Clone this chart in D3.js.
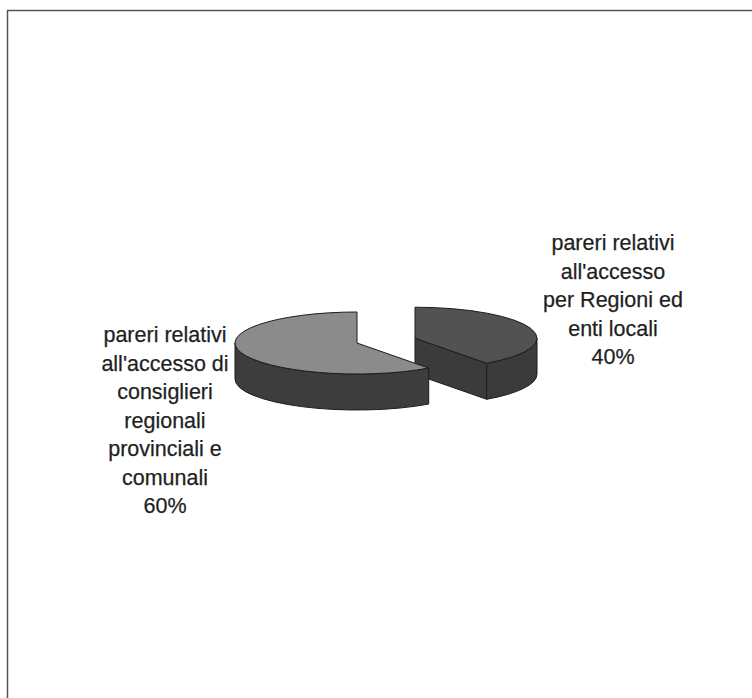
<!DOCTYPE html>
<html>
<head>
<meta charset="utf-8">
<script src="https://cdn.jsdelivr.net/npm/d3@7"></script>
<style>
  html, body { margin: 0; padding: 0; background: #fff; }
  svg { display: block; }
  .lbl { font-family: "Liberation Sans", Arial, sans-serif; font-size: 21.5px; fill: #1f1f1f; stroke: #1f1f1f; stroke-width: 0.25px; }
</style>
</head>
<body>
<div id="grafico"></div>
<script>
// dati della torta
const categorie = [
  ["pareri relativi", "all'accesso", "per Regioni ed", "enti locali"],
  ["pareri relativi", "all'accesso di", "consiglieri", "regionali", "provinciali e", "comunali"]
]
const valori = [40, 60]
const percentuali = ["40%", "60%"]

const anchoTotal = 752
const altoTotal = 698

// aspetto 3D
const cx = 357, cy = 343
const rx = 122, ry = 31
const spessore = 36
const esplodi = [0.5, 0]
const coloriTop = ["#525252", "#8b8b8b"]
const coloriLato = ["#3b3b3b", "#3d3d3d"]
const bordo = "#1c1c1c"
const posEtichette = [[613, 250], [165, 342]]
const interlinea = 28.5

const svg = d3.select("#grafico")
  .append("svg")
  .attr("width", anchoTotal)
  .attr("height", altoTotal)

// cornice
svg.append("path")
  .attr("d", `M7.5,${altoTotal + 5} L7.5,10.5 L${anchoTotal + 5},10.5`)
  .attr("fill", "none")
  .attr("stroke", "#555")
  .attr("stroke-width", 1.5)

const pie = d3.pie().sort(null).startAngle(0).endAngle(2 * Math.PI)
const archi = pie(valori)

const pt = (c, a, dy = 0) => [c[0] + rx * Math.sin(a), c[1] - ry * Math.cos(a) + dy]

const arco = (p, large, sweep) => `A${rx},${ry} 0 ${large} ${sweep} ${p[0]},${p[1]}`

const g = svg.append("g")

// prima la fetta 40% (dietro), poi la 60%
archi.forEach((d, i) => {
  const mid = (d.startAngle + d.endAngle) / 2
  const c = [cx + esplodi[i] * rx * Math.sin(mid), cy - esplodi[i] * ry * Math.cos(mid)]
  const a0 = d.startAngle, a1 = d.endAngle
  const fetta = g.append("g")

  // faccia di taglio finale
  if (Math.sin(a1) > 0.01) {
    const p = pt(c, a1)
    fetta.append("path")
      .attr("d", `M${c[0]},${c[1]} L${p[0]},${p[1]} L${p[0]},${p[1] + spessore} L${c[0]},${c[1] + spessore} Z`)
      .attr("fill", coloriLato[i]).attr("stroke", bordo).attr("stroke-width", 1)
  }
  // faccia di taglio iniziale
  if (Math.sin(a0) < -0.01) {
    const p = pt(c, a0)
    fetta.append("path")
      .attr("d", `M${c[0]},${c[1]} L${p[0]},${p[1]} L${p[0]},${p[1] + spessore} L${c[0]},${c[1] + spessore} Z`)
      .attr("fill", coloriLato[i]).attr("stroke", bordo).attr("stroke-width", 1)
  }
  // lato esterno visibile
  const s = Math.max(a0, Math.PI / 2), e = Math.min(a1, 3 * Math.PI / 2)
  if (e > s) {
    const ps = pt(c, s), pe = pt(c, e)
    const large = e - s > Math.PI ? 1 : 0
    fetta.append("path")
      .attr("d", `M${ps[0]},${ps[1]} ${arco(pe, large, 1)} L${pe[0]},${pe[1] + spessore} ${arco([ps[0], ps[1] + spessore], large, 0)} Z`)
      .attr("fill", coloriLato[i]).attr("stroke", bordo).attr("stroke-width", 1)
  }
  // faccia superiore
  const p0 = pt(c, a0), p1 = pt(c, a1)
  const large = a1 - a0 > Math.PI ? 1 : 0
  fetta.append("path")
    .attr("d", `M${c[0]},${c[1]} L${p0[0]},${p0[1]} ${arco(p1, large, 1)} Z`)
    .attr("fill", coloriTop[i]).attr("stroke", bordo).attr("stroke-width", 1)
})

// etichette
archi.forEach((d, i) => {
  const righe = categorie[i].concat([percentuali[i]])
  const t = svg.append("text")
    .attr("class", "lbl")
    .attr("text-anchor", "middle")
  righe.forEach((r, k) => {
    t.append("tspan")
      .attr("x", posEtichette[i][0])
      .attr("y", posEtichette[i][1] + k * interlinea)
      .text(r)
  })
})
</script>
</body>
</html>
